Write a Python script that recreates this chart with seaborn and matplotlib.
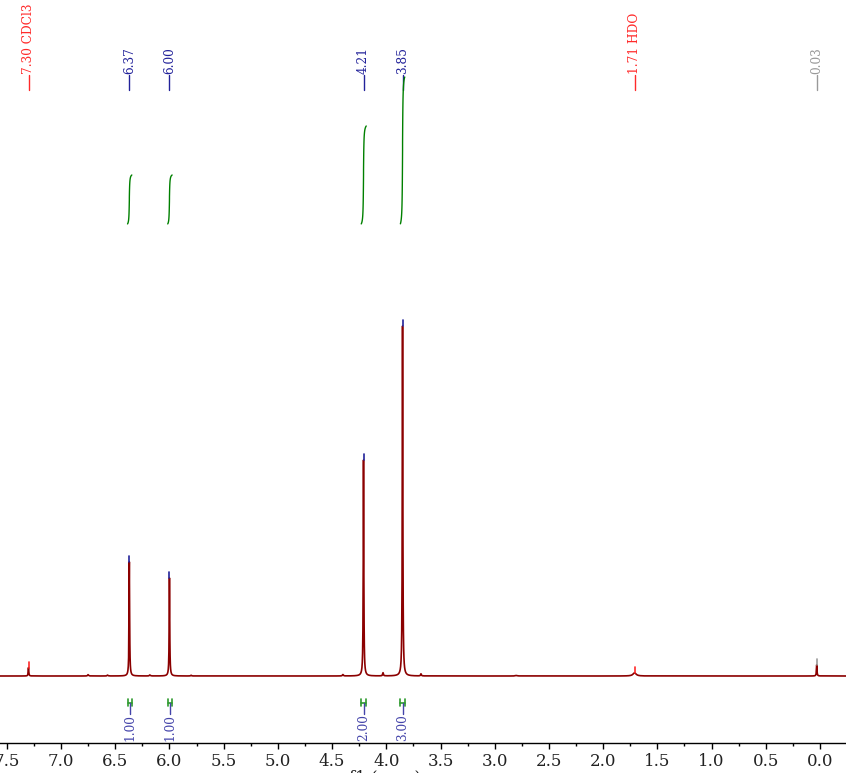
import numpy as np
import pandas as pd
import matplotlib
matplotlib.use("Agg")
import matplotlib.pyplot as plt
import seaborn as sns

# ---------------- data ----------------
# peak list (ppm, relative height, FWHM in ppm)
peak_ppm    = [7.30, 6.75, 6.57, 6.37, 6.18, 6.00, 5.80, 4.40, 4.21, 4.03, 3.85, 3.68, 2.80, 1.71, 0.03]
peak_height = [2.4,  0.4,  0.25, 32.6, 0.3,  28.0, 0.2,  0.4,  61.7, 0.9,  100., 0.6,  0.15, 0.9,  3.2]
peak_width  = [0.006,0.01, 0.01, 0.006,0.01, 0.006,0.01, 0.01, 0.006,0.008,0.006,0.008,0.02, 0.035,0.006]

# labelled peaks (top)
label_ppm   = [7.30, 6.37, 6.00, 4.21, 3.85, 1.71, 0.03]
label_text  = ["7.30 CDCl3", "6.37", "6.00", "4.21", "3.85", "1.71 HDO", "0.03"]
label_color = ["#ff2a2a", "#22229a", "#22229a", "#22229a", "#22229a", "#ff2a2a", "#999999"]

# integrals
int_start  = [6.387, 6.016, 4.231, 3.870]   # high ppm end
int_end    = [6.347, 5.975, 4.185, 3.830]   # low ppm end
int_value  = [1.00, 1.00, 2.00, 3.00]
int_labels = ["1.00", "1.00", "2.00", "3.00"]

# axis ticks
major_ticks = [7.5, 7.0, 6.5, 6.0, 5.5, 5.0, 4.5, 4.0, 3.5, 3.0, 2.5, 2.0, 1.5, 1.0, 0.5, 0.0]
minor_ticks = [7.25, 6.75, 6.25, 5.75, 5.25, 4.75, 4.25, 3.75, 3.25, 2.75, 2.25, 1.75, 1.25, 0.75, 0.25]

# ---------------- figure ----------------
sns.set_theme(style="white")
plt.rcParams["font.family"] = ["DejaVu Serif"]

W, H = 846, 773
fig = plt.figure(figsize=(W / 100, H / 100), dpi=100)
axis_px = 743
ax = fig.add_axes([0, (H - axis_px) / H, 1, axis_px / H])

base_px = 676
scale = 3.5  # px per intensity unit
def py(p):
    return (base_px - p) / scale

xl, xr = 7.563, -0.240
ax.set_xlim(xl, xr)
ax.set_ylim(py(axis_px), py(0))

# spectrum from peak list (Lorentzian line shapes)
x = np.sort(np.concatenate([np.linspace(xr, xl, 16000), np.array(peak_ppm)]))
y = np.zeros_like(x)
for c, h, w in zip(peak_ppm, peak_height, peak_width):
    y += h / (1 + ((x - c) / (w / 2)) ** 2)
spec = pd.DataFrame({"ppm": x, "intensity": y})
sns.lineplot(data=spec, x="ppm", y="intensity", ax=ax, color="#8b0000",
             linewidth=1.2, sort=False, estimator=None)

# peak-pick markers on peak tops and labels on top
for p, t, col in zip(label_ppm, label_text, label_color):
    top = y[np.argmin(np.abs(x - p))]
    ax.plot([p, p], [top, top + 6 / scale], color=col, lw=1.2)
    ax.plot([p, p], [py(90), py(75)], color=col, lw=1.0)
    ax.text(p, py(74), t, rotation=90, ha="center", va="bottom",
            color=col, fontsize=8.7)

# integral curves
int_base = py(224)
per_h = 49 / scale
for s, e, v in zip(int_start, int_end, int_value):
    m = (x <= s) & (x >= e)
    xs = x[m][::-1]
    ys = y[m][::-1]
    cum = np.cumsum(ys)
    cum = cum / cum[-1] * v * per_h + int_base
    sns.lineplot(x=xs, y=cum, ax=ax, color="#008000", linewidth=1.0,
                 sort=False, estimator=None)

# integral labels below baseline
for s, e, t in zip(int_start, int_end, int_labels):
    c = (s + e) / 2
    ax.plot([s, e], [py(702.5), py(702.5)], color="#2e9a2e", lw=1.2)
    ax.plot([s, s], [py(699), py(706)], color="#2e9a2e", lw=1.2)
    ax.plot([e, e], [py(699), py(706)], color="#2e9a2e", lw=1.2)
    ax.plot([c, c], [py(703), py(714)], color="#4444aa", lw=1.0)
    ax.text(c, py(714), t, rotation=90, ha="center", va="top",
            color="#4444aa", fontsize=8.7)

# axes styling
for sp in ["top", "left", "right"]:
    ax.spines[sp].set_visible(False)
ax.spines["bottom"].set_color("black")
ax.spines["bottom"].set_linewidth(1.0)
ax.set_yticks([])
ax.set_xticks(major_ticks)
ax.set_xticklabels([f"{v:.1f}" for v in major_ticks])
ax.set_xticks(minor_ticks, minor=True)
ax.tick_params(axis="x", which="major", direction="out", length=4, width=1,
               color="black", pad=3, labelsize=12, labelcolor="#222222", bottom=True)
ax.tick_params(axis="x", which="minor", direction="out", length=2.5, width=1,
               color="black", bottom=True)
ax.set_xlabel("")
ax.set_ylabel("")
ax.grid(False)

# axis title, mostly below the lower edge as in the reference
fig.text(385 / W, 1 - 770 / H, "f1 (ppm)", ha="center", va="top",
         fontsize=12, color="#222222")

fig.savefig("out.png", dpi=100)
